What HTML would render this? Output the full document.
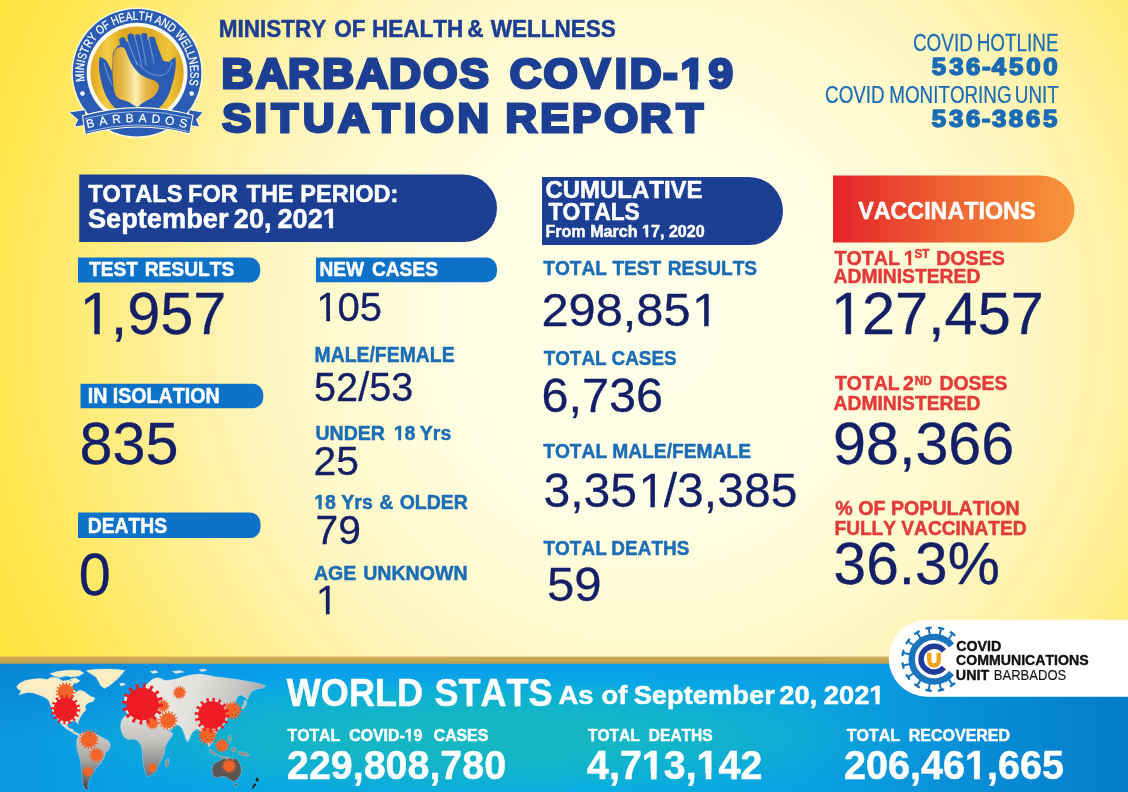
<!DOCTYPE html>
<html lang="en">
<head>
<meta charset="utf-8">
<title>Barbados COVID-19 Situation Report</title>
<style>
html,body{margin:0;padding:0;}
body{width:1128px;height:792px;overflow:hidden;background:#fff3a8;font-family:"Liberation Sans",Arial,sans-serif;}
svg{display:block;position:absolute;left:0;top:0;}
text{font-family:"Liberation Sans",Arial,sans-serif;white-space:pre;font-kerning:none;}
</style>
</head>
<body>
<svg width="1128" height="792" viewBox="0 0 1128 792">
<defs>
  <radialGradient id="bg" gradientUnits="userSpaceOnUse" cx="650" cy="325" r="720">
    <stop offset="0" stop-color="#fffee8"/>
    <stop offset="0.25" stop-color="#fffee6"/>
    <stop offset="0.44" stop-color="#fffacf"/>
    <stop offset="0.54" stop-color="#fff6c2"/>
    <stop offset="0.69" stop-color="#ffef99"/>
    <stop offset="0.735" stop-color="#ffee8a"/>
    <stop offset="0.92" stop-color="#ffe64e"/>
    <stop offset="1" stop-color="#ffe442"/>
  </radialGradient>
  <linearGradient id="band" gradientUnits="userSpaceOnUse" x1="0" y1="0" x2="1128" y2="0">
    <stop offset="0" stop-color="#0a96e1"/>
    <stop offset="0.12" stop-color="#0aa0e6"/>
    <stop offset="0.27" stop-color="#08a6e8"/>
    <stop offset="0.53" stop-color="#06aae8"/>
    <stop offset="0.71" stop-color="#0aa3e2"/>
    <stop offset="0.84" stop-color="#0891d9"/>
    <stop offset="1" stop-color="#047cc9"/>
  </linearGradient>
  <radialGradient id="teal" gradientUnits="userSpaceOnUse" cx="480" cy="737" r="440" gradientTransform="translate(480 737) scale(1 0.155) translate(-480 -737)">
    <stop offset="0" stop-color="#17b9bd" stop-opacity="0.9"/>
    <stop offset="0.35" stop-color="#17b9bd" stop-opacity="0.8"/>
    <stop offset="0.62" stop-color="#17b9bd" stop-opacity="0.5"/>
    <stop offset="0.85" stop-color="#17b9bd" stop-opacity="0.15"/>
    <stop offset="1" stop-color="#17b9bd" stop-opacity="0"/>
  </radialGradient>
  <radialGradient id="bandtl" gradientUnits="userSpaceOnUse" cx="0" cy="664" r="280" gradientTransform="translate(0 664) scale(1 0.27) translate(0 -664)">
    <stop offset="0" stop-color="#0a80d0" stop-opacity="0.75"/>
    <stop offset="0.5" stop-color="#0a80d0" stop-opacity="0.4"/>
    <stop offset="1" stop-color="#0a80d0" stop-opacity="0"/>
  </radialGradient>
  <linearGradient id="bandtop" gradientUnits="userSpaceOnUse" x1="0" y1="663" x2="0" y2="690">
    <stop offset="0" stop-color="#0a98ee" stop-opacity="0.7"/>
    <stop offset="1" stop-color="#0a98ee" stop-opacity="0"/>
  </linearGradient>
  <linearGradient id="goldl" gradientUnits="userSpaceOnUse" x1="0" y1="656.5" x2="0" y2="664">
    <stop offset="0" stop-color="#cfa95c"/>
    <stop offset="0.5" stop-color="#c8a84f"/>
    <stop offset="1" stop-color="#b59f5c"/>
  </linearGradient>
  <linearGradient id="vac" x1="0" y1="0" x2="1" y2="0">
    <stop offset="0" stop-color="#e5232a"/>
    <stop offset="0.5" stop-color="#ee6631"/>
    <stop offset="1" stop-color="#f8953a"/>
  </linearGradient>
</defs>
<rect x="0" y="0" width="1128" height="792" fill="url(#bg)"/>

<!-- bottom band -->
<rect x="0" y="663" width="1128" height="129" fill="url(#band)"/>
<rect x="0" y="663" width="1128" height="129" fill="url(#teal)"/>
<rect x="0" y="663" width="1128" height="27" fill="url(#bandtop)"/>
<rect x="0" y="663" width="290" height="80" fill="url(#bandtl)"/>
<rect x="0" y="656.6" width="1128" height="7.2" fill="url(#goldl)"/>

<!-- panels -->
<path d="M79.25 174.5H463.25a33.75 33.75 0 0 1 0 67.5H79.25Z" fill="#1c3f94"/>
<path d="M542 177H749a34 34 0 0 1 0 68H542Z" fill="#1c3f94"/>
<path d="M833 175.5H1041a33.5 33.5 0 0 1 0 67H833Z" fill="url(#vac)"/>
<!-- pills -->
<path d="M78 257.6H249.7a10.5 10.5 0 0 1 10.5 10.5V272.1a10.5 10.5 0 0 1 -10.5 10.5H78Z" fill="#0e72c8"/>
<path d="M316 257.6H486.5a10.5 10.5 0 0 1 10.5 10.5V271.7a10.5 10.5 0 0 1 -10.5 10.5H316Z" fill="#0e72c8"/>
<path d="M80.5 383.8H252.8a10.5 10.5 0 0 1 10.5 10.5V397.7a10.5 10.5 0 0 1 -10.5 10.5H80.5Z" fill="#0e72c8"/>
<path d="M78 512.6H250a10.5 10.5 0 0 1 10.5 10.5V527.6a10.5 10.5 0 0 1 -10.5 10.5H78Z" fill="#0e72c8"/>

<g id="logo" transform="translate(137.1 73.1)">
  <defs>
    <linearGradient id="lgGold" x1="0" y1="0" x2="1" y2="0">
      <stop offset="0" stop-color="#dfa61c"/>
      <stop offset="0.18" stop-color="#f4cd48"/>
      <stop offset="0.36" stop-color="#dea71f"/>
      <stop offset="0.65" stop-color="#e3ae25"/>
      <stop offset="0.85" stop-color="#f0c43c"/>
      <stop offset="1" stop-color="#dba21a"/>
    </linearGradient>
    <linearGradient id="lgIsle" x1="0" y1="0" x2="1" y2="0">
      <stop offset="0" stop-color="#d79f28"/>
      <stop offset="0.28" stop-color="#eac356"/>
      <stop offset="0.5" stop-color="#fdf0b4"/>
      <stop offset="0.72" stop-color="#e6b746"/>
      <stop offset="1" stop-color="#d9a02a"/>
    </linearGradient>
    <path id="lgArc" d="M-52.2 10.3A53.2 53.2 0 1 1 52.2 10.3"/>
    <path id="lgRib" d="M-56 57A201 201 0 0 1 56 57"/>
  </defs>
  <ellipse rx="65.8" ry="65.2" cy="-0.4" fill="#fffbe4" opacity="0.9"/>
  <ellipse rx="64.3" ry="63.7" cy="-0.4" fill="#2a5cb4"/>
  <circle r="50.4" fill="#fffdf4"/>
  <circle r="46.6" fill="url(#lgGold)"/>
  <!-- cupped hands (bowl) -->
  <path d="M-37.3-16C-39.3-8-37.6 4-33.4 17C-30.4 26-25.5 32-19.5 37.2H19.5C25.5 32 30.4 26 33.4 17C37.6 4 39.8-8 38.2-16C36-15.2 33.5-12.6 31.6-11L26-12.4L18-33L-12-31L-19.5-27L-24.2-20L-25-1.5C-27-5.5-29-9.5-30.7-12.4C-32.8-14.4-35-15.4-37.3-16Z" fill="#2a5cb4"/>
  <!-- fingers -->
  <g stroke="#2a5cb4" stroke-linecap="round" fill="none">
    <path d="M-8-14L-14.6-32.4" stroke-width="6.6"/>
    <path d="M-2-12L-6.2-36.2" stroke-width="6.8"/>
    <path d="M3-12L0.6-35.6" stroke-width="6.4"/>
    <path d="M8-12L7-36.6" stroke-width="6.8"/>
    <path d="M15-10L15-33" stroke-width="7"/>
  </g>
  <g stroke="#a9c2ea" stroke-width="0.7" fill="none" opacity="0.85" stroke-linecap="round">
    <path d="M-10.5-35L0-8"/><path d="M-2.6-38L5-6"/><path d="M3.8-38L9-8"/><path d="M11-37L17-10"/>
    <path d="M-1-12C6-2 16 4 26 2C30 1 33-4 35-11"/>
    <path d="M-33-10C-31-2-28 6-25 12"/>
  </g>
  <!-- island -->
  <path d="M-19-25.4C-16-27-13-25.6-11.6-23C-10-19-8.6-15-7-12C-5-8-3-5-0.6-2.4C2 0.4 5 2.6 8.4 4.2C12 6 16.5 6.6 19.4 8.8C22 10.8 22.6 13 21.6 15.4C20.6 18.4 19 21 17 23.2C14 26 10 27.4 7 28.8C4.4 30.2 2.6 32.6 0.4 33.8C-2.4 33.4-5 30.4-8.4 28.8C-11.6 27.4-15.6 27-18.4 25.4C-21 23.6-22.4 20.6-23 17.6C-24.2 10-24.8 2-24.6-4.8C-24.6-9.8-24.2-14.6-23.4-19.2C-22.6-22-21.2-24.2-19-25.4Z" fill="url(#lgIsle)"/>
  <!-- dots -->
  <circle cx="-54.6" cy="20.4" r="2.3" fill="#fff"/>
  <circle cx="54.6" cy="20.4" r="2.3" fill="#fff"/>
  <text font-size="12.2" font-weight="400" fill="#fff" stroke="#fff" stroke-width="0.25" textLength="187" lengthAdjust="spacingAndGlyphs"><textPath href="#lgArc" startOffset="2" textLength="187" lengthAdjust="spacingAndGlyphs">MINISTRY OF HEALTH AND WELLNESS</textPath></text>
  <!-- ribbon -->
  <path d="M-68.2 39L-52 36.5L-50 52L-62.8 54L-59.4 46.5Z" fill="#2a5cb4" stroke="#fffbe4" stroke-width="1"/>
  <path d="M66.2 39L52 36.5L50 52L62.8 54L59.4 46.5Z" fill="#2a5cb4" stroke="#fffbe4" stroke-width="1"/>
  <path d="M-54.6 42.7A201 201 0 0 1 56 42.1L52.6 60.8A196 196 0 0 0 -51.8 61.5Z" fill="#2a5cb4" stroke="#fffbe4" stroke-width="1.1"/>
  <path d="M-52.2 45.6A201 201 0 0 1 53.4 45.2" fill="none" stroke="#cfe0f7" stroke-width="0.7"/>
  <path d="M-50 58.6A198 198 0 0 1 50.6 58.2" fill="none" stroke="#cfe0f7" stroke-width="0.7"/>
  <text font-size="12" font-weight="400" fill="#fff" stroke="#fff" stroke-width="0.2" letter-spacing="4.7"><textPath href="#lgRib" startOffset="51.8%" text-anchor="middle">BARBADOS</textPath></text>
</g>

<g id="worldmap">
  <defs>
    <linearGradient id="mapNA" gradientUnits="userSpaceOnUse" x1="0" y1="668" x2="0" y2="736">
      <stop offset="0" stop-color="#fdeec2"/>
      <stop offset="0.55" stop-color="#f8ebc8"/>
      <stop offset="1" stop-color="#d6d3cc"/>
    </linearGradient>
    <linearGradient id="mapSA" gradientUnits="userSpaceOnUse" x1="0" y1="732" x2="0" y2="791">
      <stop offset="0" stop-color="#d2cfc8"/>
      <stop offset="0.45" stop-color="#a9a8a6"/>
      <stop offset="0.8" stop-color="#6b6b6b"/>
      <stop offset="1" stop-color="#2e2e2e"/>
    </linearGradient>
    <linearGradient id="mapAF" gradientUnits="userSpaceOnUse" x1="0" y1="714" x2="0" y2="777">
      <stop offset="0" stop-color="#e2dfda"/>
      <stop offset="0.45" stop-color="#c2c0bd"/>
      <stop offset="1" stop-color="#6e6e6e"/>
    </linearGradient>
    <linearGradient id="mapEA" gradientUnits="userSpaceOnUse" x1="130" y1="680" x2="270" y2="720">
      <stop offset="0" stop-color="#f1eee6"/>
      <stop offset="0.45" stop-color="#e3e1dd"/>
      <stop offset="0.75" stop-color="#c4c3c1"/>
      <stop offset="1" stop-color="#9a9a9a"/>
    </linearGradient>
    <g id="vr">
      <circle r="1.1" fill="none" stroke="#ee1c24" stroke-width="0.32" stroke-dasharray="0.17 0.2619"/>
      <circle r="1" fill="#ee1c24"/>
    </g>
    <g id="vo">
      <circle r="1.1" fill="none" stroke="#f2642a" stroke-width="0.32" stroke-dasharray="0.17 0.2619"/>
      <circle r="1" fill="#f2642a"/>
    </g>
  </defs>
  <g stroke="#e9f3f5" stroke-width="0.5" stroke-opacity="0.55" stroke-linejoin="round">
  <g fill="url(#mapNA)">
    <!-- North America -->
    <path d="M16.5 686.5L20 683L25 680.5L33 679L41 678.5L47 679.5L52 677L58 678L63 681L69 680L74 683L72 688L76 692L80 690L85 692L90 696L95 698L93 701.5L88 703L85 706L86 710L83 713L80.5 717L78.5 721L78 724.5L76.5 722L73 721L69 722L67 725L69 728.5L72.5 729L74 731.5L77 733L80 734.5L78 735.5L74.5 734L71 731.5L66.5 729L62 725L58.5 720L55 716L52.5 711L50.5 705L48.5 700L44 697L39 695L33.5 693L28 692.5L23 693.5L19 695L21 691L18 689Z"/>
    <!-- Arctic islands -->
    <path d="M50 673.5L57 671.5L64 670.5L72 670L80 670.5L84 673L79 676L72 677L66 676L60 677.5L54 676Z"/>
    <path d="M70 679L76 678L80 681L76 683.5L72 682Z"/>
    <!-- Greenland -->
    <path d="M86 670.5L95 669.3L106 669L117 669.3L125 670.5L122 674L118.5 678L114 682L109 686L104.5 688.5L101 686L98.5 681.5L96 677L91 674Z"/>
    <!-- Iceland -->
    <path d="M119.5 683.5L124 683L125 685L121 686Z"/>
  </g><g fill="url(#mapSA)">
    <!-- South America -->
    <path d="M79.5 734.5L84 732.5L89 732L94 733L98.5 735.5L103 738L108.5 741L110.5 745L109 749.5L105.5 753L104 758L101 763L97 767L94 772L91 777L88.5 782L87.5 786.5L88.5 790L85.5 789L83 785L82 779L81.5 772L81 764L79.5 757L77.5 751L76.5 745L77 739Z"/>
  </g><g fill="url(#mapAF)">
    <!-- Africa -->
    <path d="M121 722.5L122.5 718.5L126 715.5L132 714.5L139 714L146 714.8L151 716.5L156 716L161 717L164 721L166.5 726L169 731L173 733.5L171 737.5L167.5 742L165 747L164.5 753L162 759L158.5 765L155 771L151.5 775.5L147.5 776.5L145 772L143.5 765L142.5 758L142.5 751L141 745L138 740.5L133 739L128 739.5L124 737L121.5 732L120.5 727Z"/>
    <path d="M166 760L168.5 758.5L169 763L167 767.5L165 766Z"/>
  </g><g fill="url(#mapEA)">
    <!-- Eurasia -->
    <path d="M126 712.5L126.5 708L129.5 706L128.5 702.5L132 700L135.5 698.5L138 695.5L141 694L142 690L145 686L149 682L153 679L157 677.5L161 678.5L165 680.5L170 680L176 679L182 677L188 675.5L194 674.5L200 674L207 675L214 676.5L222 677.5L230 678.5L238 679.5L246 681L254 682.5L261 684L265.5 686L262 688.5L257 689L252 691L249.5 695L247.5 699.5L244.5 697L241 695L237.5 696.5L236 700.5L234 704L232 708L231 712L229.5 716L227 720L224.5 724L221 727L218 731L215 735L213 739.5L211 744L209 747L207 743L205.5 738L203 734L200 731L197 729L193.5 731L191 735L189 739.5L187.5 742L185.5 738L184 733L182 728.5L179.5 725.5L176 725L173.5 727L171 730.5L168 729L166 725L163.5 721L160.5 718L156 716L152 713.5L148.5 712.5L146 714.5L143 712L139.5 710.5L136 712L133 714L129.5 715.5Z"/>
    <!-- British isles -->
    <path d="M124.5 697L127.5 695.5L128.5 699L126.5 702L124.5 700.5Z"/>
    <!-- Scandinavia islands -->
    <path d="M150 671.5L156 670.5L158 672.5L153 673.5Z"/>
    <path d="M172 671.5L180 670.5L184 672L176 673.5Z"/>
    <path d="M199 669.5L205 669L207 670.5L201 671.5Z"/>
    <!-- Japan -->
    <path d="M244.5 700L247 701.5L246 705.5L243.5 709L241.5 708L243.5 704Z"/>
  </g><g fill="#8f8b88">
    <!-- Indonesia / Philippines -->
    <path d="M209 749L213 751L217 754L215.5 756L211 753Z"/>
    <path d="M218 755.5L225 756.5L230 757.5L229.5 759L222 758Z"/>
    <path d="M221 746L226 744.5L227.5 748.5L224 751L221 749.5Z"/>
    <path d="M231 748L235 747.5L236 751L232.5 752Z"/>
    <path d="M238 751.5L246 752.5L250 755.5L245 756L239.5 754.5Z"/>
    <path d="M228 736L230.5 735L231.5 740L229.5 742.5Z"/>
  </g><g fill="#5b5553">
    <!-- Australia -->
    <path d="M212.5 766L215.5 762.5L220 760.5L224 758L227 759.5L230 757.5L233 759.5L236 758L239 762L241 766.5L241.5 771.5L240 776L237 780L233 781.5L229.5 779.5L226 777L221.5 776.5L217 778L213.5 776.5L212 771.5Z"/>
    <path d="M234.5 783.5L237.5 783.5L237 786L235 786Z"/>
  </g><g fill="#262626" stroke="none">
    <!-- New Zealand -->
    <path d="M256.5 777L259 779.5L257.5 782L255.5 780.5Z"/>
    <path d="M255 783L256.5 784.5L253.5 788L251.5 789L252.5 786Z"/>
  </g>
  </g>
  <!-- virus markers -->
  <use href="#vo" transform="translate(65.5 692) scale(7.82)"/>
  <use href="#vr" transform="translate(65.5 709.5) scale(11.73)"/>
  <use href="#vo" transform="translate(179.5 692.5) scale(5.29)"/>
  <use href="#vo" transform="translate(163 706) scale(5.06)"/>
  <use href="#vo" transform="translate(168 720.5) scale(7.59)"/>
  <use href="#vo" transform="translate(152.5 723) scale(5.29)"/>
  <use href="#vr" transform="translate(142.5 704) scale(16.33)"/>
  <use href="#vo" transform="translate(232.5 710.5) scale(7.36)"/>
  <use href="#vo" transform="translate(207.5 735.5) scale(7.36)"/>
  <use href="#vr" transform="translate(212 715) scale(13.80)"/>
  <use href="#vo" transform="translate(222 745.5) scale(5.52)"/>
  <use href="#vo" transform="translate(229 766) scale(5.75)"/>
  <use href="#vo" transform="translate(89 739.5) scale(7.82)"/>
  <use href="#vo" transform="translate(96.5 755) scale(5.98)"/>
  <use href="#vo" transform="translate(88 771.5) scale(4.14)"/>
  <use href="#vo" transform="translate(152.5 768) scale(3.91)"/>
</g>

<g id="ccu">
  <path d="M1128 619.7H927.2a38.5 38.5 0 0 0 0 77H1128Z" fill="#ffffff"/>
  <g transform="translate(934 659.2)">
    <g stroke="#1b75bc" stroke-width="2" stroke-linecap="round" fill="#1b75bc">
      <g transform="rotate(-216.0)"><path d="M0-24V-30.8" fill="none"/><path d="M-2.2-31.6H2.2" fill="none" stroke-width="2.4"/></g>
      <g transform="rotate(-193.1)"><path d="M0-24V-30.8" fill="none"/><path d="M-2.2-31.6H2.2" fill="none" stroke-width="2.4"/></g>
      <g transform="rotate(-170.2)"><path d="M0-24V-30.8" fill="none"/><path d="M-2.2-31.6H2.2" fill="none" stroke-width="2.4"/></g>
      <g transform="rotate(-147.3)"><path d="M0-24V-30.8" fill="none"/><path d="M-2.2-31.6H2.2" fill="none" stroke-width="2.4"/></g>
      <g transform="rotate(-124.4)"><path d="M0-24V-30.8" fill="none"/><path d="M-2.2-31.6H2.2" fill="none" stroke-width="2.4"/></g>
      <g transform="rotate(-101.5)"><path d="M0-24V-30.8" fill="none"/><path d="M-2.2-31.6H2.2" fill="none" stroke-width="2.4"/></g>
      <g transform="rotate(-78.5)"><path d="M0-24V-30.8" fill="none"/><path d="M-2.2-31.6H2.2" fill="none" stroke-width="2.4"/></g>
      <g transform="rotate(-55.6)"><path d="M0-24V-30.8" fill="none"/><path d="M-2.2-31.6H2.2" fill="none" stroke-width="2.4"/></g>
      <g transform="rotate(-32.7)"><path d="M0-24V-30.8" fill="none"/><path d="M-2.2-31.6H2.2" fill="none" stroke-width="2.4"/></g>
      <g transform="rotate(-9.8)"><path d="M0-24V-30.8" fill="none"/><path d="M-2.2-31.6H2.2" fill="none" stroke-width="2.4"/></g>
      <g transform="rotate(13.1)"><path d="M0-24V-30.8" fill="none"/><path d="M-2.2-31.6H2.2" fill="none" stroke-width="2.4"/></g>
      <g transform="rotate(36.0)"><path d="M0-24V-30.8" fill="none"/><path d="M-2.2-31.6H2.2" fill="none" stroke-width="2.4"/></g>
    </g>
    <path d="M17.57 -13.73A22.3 22.3 0 1 0 17.57 13.73" fill="none" stroke="#1b75bc" stroke-width="6.4"/>
    <path d="M9.88 -8.29A12.9 12.9 0 1 0 9.88 8.29" fill="none" stroke="#1e3c96" stroke-width="5.6"/>
    <path d="M-4.7-6.4V1.6A4.7 4.7 0 0 0 4.7 1.6V-6.4" fill="none" stroke="#f3a21f" stroke-width="4.4"/>
  </g>
</g>

<text transform="scale(0.9637 1)" y="37.5" font-size="23.38" font-weight="700" fill="#1c3f94" stroke="#1c3f94" stroke-width="0.5" stroke-linejoin="round"><tspan x="226.94">MINISTRY</tspan> <tspan x="346.91">OF</tspan> <tspan x="386.11">HEALTH</tspan> <tspan x="484.96">&amp;</tspan> <tspan x="509.32">WELLNESS</tspan></text>
<text transform="scale(1.06 1)" x="209.04 241.21 271.81 303.97 336.14 367.16 399.3 433.52" y="88.35" font-size="41.58" font-weight="700" fill="#1c3f94" stroke="#1c3f94" stroke-width="2.9" stroke-linejoin="miter" stroke-miterlimit="2.5">BARBADOS</text>
<text transform="scale(1.06 1)" x="480.84 512.8 547.99 579.94 594 625.42 642.01 668.52" y="88.35" font-size="41.58" font-weight="700" fill="#1c3f94" stroke="#1c3f94" stroke-width="2.9" stroke-linejoin="miter" stroke-miterlimit="2.5">COVID-19</text>
<text transform="scale(1.06 1)" x="209.77 240.26 256.14 285.75 318.87 351.78 381.44 396.2 431.58" y="132.35" font-size="41.15" font-weight="700" fill="#1c3f94" stroke="#1c3f94" stroke-width="2.9" stroke-linejoin="miter" stroke-miterlimit="2.5">SITUATION</text>
<text transform="scale(1.06 1)" x="476.99 509.67 539.54 570.16 603.8 638.12" y="132.35" font-size="41.15" font-weight="700" fill="#1c3f94" stroke="#1c3f94" stroke-width="2.9" stroke-linejoin="miter" stroke-miterlimit="2.5">REPORT</text>
<text transform="scale(0.7911 1)" y="51.12" font-size="23.91" font-weight="400" fill="#1b6cb4" stroke="#1b6cb4" stroke-width="0.25" stroke-linejoin="round"><tspan x="1153.99">COVID</tspan> <tspan x="1234.58">HOTLINE</tspan></text>
<text transform="scale(1.12 1)" x="831.9 847.45 862.61 876.68 885.41 900.85 916.23 931.56" y="74.75" font-size="23.02" font-weight="700" fill="#1b6cb4" stroke="#1b6cb4" stroke-width="1.5" stroke-linejoin="round">536-4500</text>
<text transform="scale(0.8123 1)" y="103.12" font-size="23.19" font-weight="400" fill="#1b6cb4" stroke="#1b6cb4" stroke-width="0.25" stroke-linejoin="round"><tspan x="1015.7">COVID</tspan> <tspan x="1094.74">MONITORING</tspan> <tspan x="1249.3">UNIT</tspan></text>
<text transform="scale(1.12 1)" x="831.9 847.43 862.55 876.61 885.66 900.73 916.08 931.33" y="126.75" font-size="23.02" font-weight="700" fill="#1b6cb4" stroke="#1b6cb4" stroke-width="1.5" stroke-linejoin="round">536-3865</text>
<text transform="scale(0.991 1)" y="201.75" font-size="23.74" font-weight="700" fill="#ffffff" stroke="#ffffff" stroke-width="0.5" stroke-linejoin="round"><tspan x="89.07">TOTALS</tspan> <tspan x="189.81">FOR</tspan> <tspan x="248.77">THE</tspan> <tspan x="303.03">PERIOD:</tspan></text>
<text transform="scale(0.9696 1)" y="227.85" font-size="28.06" font-weight="700" fill="#ffffff" stroke="#ffffff" stroke-width="0.5" stroke-linejoin="round"><tspan x="90.67">September</tspan> <tspan x="241.1">20,</tspan> <tspan x="286.17">2021</tspan></text>
<text transform="scale(1.0094 1)" y="198" font-size="23.74" font-weight="700" fill="#ffffff" stroke="#ffffff" stroke-width="0.5" stroke-linejoin="round"><tspan x="540.44">CUMULATIVE</tspan></text>
<text transform="scale(0.9766 1)" y="220.25" font-size="23.38" font-weight="700" fill="#ffffff" stroke="#ffffff" stroke-width="0.5" stroke-linejoin="round"><tspan x="561.68">TOTALS</tspan></text>
<text transform="scale(0.933 1)" y="237.25" font-size="17.27" font-weight="700" fill="#ffffff" stroke="#ffffff" stroke-width="0.5" stroke-linejoin="round"><tspan x="584.62">From March 17, 2020</tspan></text>
<text transform="scale(0.9973 1)" y="219" font-size="23.38" font-weight="700" fill="#ffffff" stroke="#ffffff" stroke-width="0.5" stroke-linejoin="round"><tspan x="860.47">VACCINATIONS</tspan></text>
<text transform="scale(0.9209 1)" y="276" font-size="20.86" font-weight="700" fill="#ffffff" stroke="#ffffff" stroke-width="0.5" stroke-linejoin="round"><tspan x="96.55">TEST</tspan> <tspan x="157.08">RESULTS</tspan></text>
<text transform="scale(0.9997 1)" y="334.26" font-size="59.44" font-weight="400" fill="#131f66" stroke="#131f66" stroke-width="0.3" stroke-linejoin="round"><tspan x="77.68"><tspan dx="1.78">1</tspan><tspan dx="-1.78">,</tspan>957</tspan></text>
<text transform="scale(0.9109 1)" y="402.75" font-size="21.58" font-weight="700" fill="#ffffff" stroke="#ffffff" stroke-width="0.5" stroke-linejoin="round"><tspan x="96.27">IN</tspan> <tspan x="123.78">ISOLATION</tspan></text>
<text transform="scale(1.0055 1)" y="463.76" font-size="59.02" font-weight="400" fill="#131f66" stroke="#131f66" stroke-width="0.3" stroke-linejoin="round"><tspan x="79.09">835</tspan></text>
<text transform="scale(0.8956 1)" y="532.75" font-size="21.58" font-weight="700" fill="#ffffff" stroke="#ffffff" stroke-width="0.5" stroke-linejoin="round"><tspan x="97.97">DEATHS</tspan></text>
<text transform="scale(0.9696 1)" y="594.76" font-size="59.44" font-weight="400" fill="#131f66" stroke="#131f66" stroke-width="0.3" stroke-linejoin="round"><tspan x="81.1">0</tspan></text>
<text transform="scale(0.9182 1)" y="276" font-size="20.86" font-weight="700" fill="#ffffff" stroke="#ffffff" stroke-width="0.5" stroke-linejoin="round"><tspan x="347.97">NEW</tspan> <tspan x="405.09">CASES</tspan></text>
<text transform="scale(0.9921 1)" y="321.45" font-size="40.42" font-weight="400" fill="#131f66" stroke="#131f66" stroke-width="0.3" stroke-linejoin="round"><tspan x="317.6"><tspan dx="1.22">1</tspan><tspan dx="-1.22">0</tspan>5</tspan></text>
<text transform="scale(0.8997 1)" y="362.25" font-size="21.58" font-weight="700" fill="#1b6db6" stroke="#1b6db6" stroke-width="0.5" stroke-linejoin="round"><tspan x="349.55">MALE/FEMALE</tspan></text>
<text transform="scale(0.989 1)" y="401.45" font-size="40.07" font-weight="400" fill="#131f66" stroke="#131f66" stroke-width="0.3" stroke-linejoin="round"><tspan x="317.57">52/53</tspan></text>
<text transform="scale(0.9377 1)" y="439.75" font-size="20.86" font-weight="700" fill="#1b6db6" stroke="#1b6db6" stroke-width="0.5" stroke-linejoin="round"><tspan x="336.4">UNDER</tspan> <tspan x="419.88">18</tspan> <tspan x="447.72">Yrs</tspan></text>
<text transform="scale(1.0191 1)" y="474.95" font-size="40.07" font-weight="400" fill="#131f66" stroke="#131f66" stroke-width="0.3" stroke-linejoin="round"><tspan x="307.73">25</tspan></text>
<text transform="scale(0.935 1)" y="509" font-size="20.86" font-weight="700" fill="#1b6db6" stroke="#1b6db6" stroke-width="0.5" stroke-linejoin="round"><tspan x="336.07">18</tspan> <tspan x="365.07">Yrs</tspan> <tspan x="405.69">&amp;</tspan> <tspan x="427.41">OLDER</tspan></text>
<text transform="scale(1.018 1)" y="544.45" font-size="40.07" font-weight="400" fill="#131f66" stroke="#131f66" stroke-width="0.3" stroke-linejoin="round"><tspan x="310.03">79</tspan></text>
<text transform="scale(0.9386 1)" y="579.75" font-size="20.86" font-weight="700" fill="#1b6db6" stroke="#1b6db6" stroke-width="0.5" stroke-linejoin="round"><tspan x="334.49">AGE</tspan> <tspan x="387">UNKNOWN</tspan></text>
<text transform="scale(0.963 1)" y="614.1" font-size="41.23" font-weight="400" fill="#131f66" stroke="#131f66" stroke-width="0.3" stroke-linejoin="round"><tspan x="326.87"><tspan dx="1.28">1</tspan></tspan></text>
<text transform="scale(0.9182 1)" y="274.75" font-size="20.86" font-weight="700" fill="#1b6db6" stroke="#1b6db6" stroke-width="0.5" stroke-linejoin="round"><tspan x="591.65">TOTAL</tspan> <tspan x="666.94">TEST</tspan> <tspan x="727.3">RESULTS</tspan></text>
<text transform="scale(1.0343 1)" y="326.38" font-size="47.13" font-weight="400" fill="#131f66" stroke="#131f66" stroke-width="0.3" stroke-linejoin="round"><tspan x="523.5">298,85<tspan dx="1.37">1</tspan></tspan></text>
<text transform="scale(0.9043 1)" y="364.75" font-size="20.86" font-weight="700" fill="#1b6db6" stroke="#1b6db6" stroke-width="0.5" stroke-linejoin="round"><tspan x="601.23">TOTAL</tspan> <tspan x="676.3">CASES</tspan></text>
<text transform="scale(1.009 1)" y="411.87" font-size="48.17" font-weight="400" fill="#131f66" stroke="#131f66" stroke-width="0.3" stroke-linejoin="round"><tspan x="536.62">6,736</tspan></text>
<text transform="scale(0.9215 1)" y="457.75" font-size="20.86" font-weight="700" fill="#1b6db6" stroke="#1b6db6" stroke-width="0.5" stroke-linejoin="round"><tspan x="589.42">TOTAL</tspan> <tspan x="664.37">MALE/FEMALE</tspan></text>
<text transform="scale(1.0047 1)" y="506.87" font-size="47.83" font-weight="400" fill="#131f66" stroke="#131f66" stroke-width="0.3" stroke-linejoin="round"><tspan x="540.95">3,35<tspan dx="1.43">1</tspan><tspan dx="-1.43">/</tspan>3,385</tspan></text>
<text transform="scale(0.9103 1)" y="554.75" font-size="20.86" font-weight="700" fill="#1b6db6" stroke="#1b6db6" stroke-width="0.5" stroke-linejoin="round"><tspan x="597.08">TOTAL</tspan> <tspan x="671.58">DEATHS</tspan></text>
<text transform="scale(1.006 1)" y="600.61" font-size="48.87" font-weight="400" fill="#131f66" stroke="#131f66" stroke-width="0.3" stroke-linejoin="round"><tspan x="543.7">59</tspan></text>
<text transform="scale(0.9633 1)" y="264.8" font-size="20.37" font-weight="700" fill="#e23b3a" stroke="#e23b3a" stroke-width="0.5" stroke-linejoin="round"><tspan x="866.33">TOTAL</tspan> <tspan x="938.3">1</tspan><tspan x="949.33" y="258.44" font-size="11.99">ST</tspan> <tspan x="971.87" y="264.8">DOSES</tspan></text>
<text transform="scale(0.9578 1)" y="283.5" font-size="20.14" font-weight="700" fill="#e23b3a" stroke="#e23b3a" stroke-width="0.5" stroke-linejoin="round"><tspan x="870.33">ADMINISTERED</tspan></text>
<text transform="scale(1.0125 1)" y="334.26" font-size="58.73" font-weight="400" fill="#131f66" stroke="#131f66" stroke-width="0.3" stroke-linejoin="round"><tspan x="818.69"><tspan dx="1.74">1</tspan><tspan dx="-1.74">2</tspan>7,457</tspan></text>
<text transform="scale(0.9651 1)" y="390.5" font-size="20.14" font-weight="700" fill="#e23b3a" stroke="#e23b3a" stroke-width="0.5" stroke-linejoin="round"><tspan x="865.13">TOTAL</tspan> <tspan x="935.78">2</tspan><tspan x="947.84" y="384.51" font-size="12.26">ND</tspan> <tspan x="973.39" y="390.5">DOSES</tspan></text>
<text transform="scale(0.9578 1)" y="409.75" font-size="20.14" font-weight="700" fill="#e23b3a" stroke="#e23b3a" stroke-width="0.5" stroke-linejoin="round"><tspan x="870.33">ADMINISTERED</tspan></text>
<text transform="scale(1.0044 1)" y="463.76" font-size="59.02" font-weight="400" fill="#131f66" stroke="#131f66" stroke-width="0.3" stroke-linejoin="round"><tspan x="829.37">98,366</tspan></text>
<text transform="scale(0.9753 1)" y="515.5" font-size="20.14" font-weight="700" fill="#e23b3a" stroke="#e23b3a" stroke-width="0.5" stroke-linejoin="round"><tspan x="856.51">% OF POPULATION</tspan></text>
<text transform="scale(0.9489 1)" y="534.75" font-size="20.14" font-weight="700" fill="#e23b3a" stroke="#e23b3a" stroke-width="0.5" stroke-linejoin="round"><tspan x="879.43">FULLY VACCINATED</tspan></text>
<text transform="scale(0.9865 1)" y="584.26" font-size="59.44" font-weight="400" fill="#131f66" stroke="#131f66" stroke-width="0.3" stroke-linejoin="round"><tspan x="845">36.3%</tspan></text>
<text transform="scale(0.928 1)" y="706" font-size="38.85" font-weight="700" fill="#ffffff" stroke="#ffffff" stroke-width="0.5" stroke-linejoin="round"><tspan x="309.11">WORLD</tspan> <tspan x="468.24">STATS</tspan></text>
<text transform="scale(1.0403 1)" y="704.25" font-size="26.26" font-weight="700" fill="#ffffff" stroke="#ffffff" stroke-width="0.5" stroke-linejoin="round"><tspan x="536.89">As</tspan> <tspan x="578.32">of</tspan> <tspan x="609.11">September</tspan> <tspan x="749.05">20,</tspan> <tspan x="791.86">2021</tspan></text>
<text transform="scale(0.9165 1)" y="741" font-size="17.27" font-weight="700" fill="#ffffff" stroke="#ffffff" stroke-width="0.5" stroke-linejoin="round"><tspan x="313.71">TOTAL</tspan> <tspan x="381.18">COVID-19</tspan> <tspan x="473.24">CASES</tspan></text>
<text transform="scale(0.9902 1)" y="778.6" font-size="39.79" font-weight="700" fill="#ffffff" stroke="#ffffff" stroke-width="0.5" stroke-linejoin="round"><tspan x="289.9">229,808,780</tspan></text>
<text transform="scale(0.8997 1)" y="741" font-size="17.27" font-weight="700" fill="#ffffff" stroke="#ffffff" stroke-width="0.5" stroke-linejoin="round"><tspan x="653.51">TOTAL</tspan> <tspan x="721.15">DEATHS</tspan></text>
<text transform="scale(0.9901 1)" y="778.6" font-size="39.79" font-weight="700" fill="#ffffff" stroke="#ffffff" stroke-width="0.5" stroke-linejoin="round"><tspan x="593">4,713,142</tspan></text>
<text transform="scale(0.9263 1)" y="741.05" font-size="17.27" font-weight="700" fill="#ffffff" stroke="#ffffff" stroke-width="0.5" stroke-linejoin="round"><tspan x="914.06">TOTAL</tspan> <tspan x="981.15">RECOVERED</tspan></text>
<text transform="scale(0.9926 1)" y="778.65" font-size="39.86" font-weight="700" fill="#ffffff" stroke="#ffffff" stroke-width="0.5" stroke-linejoin="round"><tspan x="850.24">206,461,665</tspan></text>
<text transform="scale(0.9544 1)" y="650.71" font-size="14.93" font-weight="700" fill="#111111" stroke="#111111" stroke-width="0.4" stroke-linejoin="round"><tspan x="1001.87">COVID</tspan></text>
<text transform="scale(0.9463 1)" y="665.01" font-size="14.93" font-weight="700" fill="#111111" stroke="#111111" stroke-width="0.4" stroke-linejoin="round"><tspan x="1010.36">COMMUNICATIONS</tspan></text>
<text transform="scale(0.9563 1)" y="679.74" font-size="14.93" font-weight="700" fill="#111111" stroke="#111111" stroke-width="0.4" stroke-linejoin="round"><tspan x="999.55">UNIT</tspan></text>
<text transform="scale(0.8435 1)" y="679.89" font-size="15.47" font-weight="400" fill="#111111" stroke="#111111" stroke-width="0.1" stroke-linejoin="round"><tspan x="1178.16">BARBADOS</tspan></text>
<g id="trim"><rect x="680.86" y="81.66" width="9.09" height="9.44" fill="url(#bg)"/><rect x="697.74" y="81.66" width="8.53" height="9.44" fill="url(#bg)"/><rect x="323.34" y="223.74" width="5.74" height="5.66" fill="#1c3f94"/><rect x="333.1" y="223.74" width="5.39" height="5.66" fill="#1c3f94"/><rect x="641.89" y="234.24" width="3.85" height="4.56" fill="#1c3f94"/><rect x="648.25" y="234.24" width="3.64" height="4.56" fill="#1c3f94"/><rect x="82.81" y="328.67" width="11.48" height="7.04" fill="url(#bg)"/><rect x="99.72" y="328.67" width="11.01" height="7.04" fill="url(#bg)"/><rect x="318.21" y="317.28" width="8.09" height="5.62" fill="url(#bg)"/><rect x="330.02" y="317.28" width="7.78" height="5.62" fill="url(#bg)"/><rect x="393.69" y="436.37" width="4.43" height="4.93" fill="url(#bg)"/><rect x="401.11" y="436.37" width="4.19" height="4.93" fill="url(#bg)"/><rect x="314.22" y="505.62" width="4.42" height="4.93" fill="url(#bg)"/><rect x="321.62" y="505.62" width="4.18" height="4.93" fill="url(#bg)"/><rect x="317.89" y="609.87" width="8.02" height="5.68" fill="url(#bg)"/><rect x="329.6" y="609.87" width="7.71" height="5.68" fill="url(#bg)"/><rect x="694.55" y="321.71" width="9.61" height="6.12" fill="url(#bg)"/><rect x="708.64" y="321.71" width="9.22" height="6.12" fill="url(#bg)"/><rect x="640.94" y="502.15" width="9.48" height="6.17" fill="url(#bg)"/><rect x="654.85" y="502.15" width="9.11" height="6.17" fill="url(#bg)"/><rect x="834.04" y="328.72" width="11.48" height="6.99" fill="url(#bg)"/><rect x="850.96" y="328.72" width="11.02" height="6.99" fill="url(#bg)"/><rect x="869.79" y="700.32" width="5.75" height="5.48" fill="url(#band)"/><rect x="869.79" y="700.32" width="5.75" height="5.48" fill="url(#teal)"/><rect x="879.6" y="700.32" width="5.41" height="5.48" fill="url(#band)"/><rect x="879.6" y="700.32" width="5.41" height="5.48" fill="url(#teal)"/><rect x="404.48" y="737.99" width="3.8" height="4.56" fill="url(#band)"/><rect x="404.48" y="737.99" width="3.8" height="4.56" fill="url(#teal)"/><rect x="410.75" y="737.99" width="3.6" height="4.56" fill="url(#band)"/><rect x="410.75" y="737.99" width="3.6" height="4.56" fill="url(#teal)"/><rect x="643.16" y="773.29" width="7.81" height="6.86" fill="url(#band)"/><rect x="643.16" y="773.29" width="7.81" height="6.86" fill="url(#teal)"/><rect x="656.68" y="773.29" width="7.31" height="6.86" fill="url(#band)"/><rect x="656.68" y="773.29" width="7.31" height="6.86" fill="url(#teal)"/><rect x="697.92" y="773.29" width="7.81" height="6.86" fill="url(#band)"/><rect x="697.92" y="773.29" width="7.81" height="6.86" fill="url(#teal)"/><rect x="711.44" y="773.29" width="7.31" height="6.86" fill="url(#band)"/><rect x="711.44" y="773.29" width="7.31" height="6.86" fill="url(#teal)"/><rect x="966.22" y="773.33" width="7.84" height="6.87" fill="url(#band)"/><rect x="966.22" y="773.33" width="7.84" height="6.87" fill="url(#teal)"/><rect x="979.79" y="773.33" width="7.34" height="6.87" fill="url(#band)"/><rect x="979.79" y="773.33" width="7.34" height="6.87" fill="url(#teal)"/><rect x="903.89" y="261.48" width="4.44" height="4.88" fill="url(#bg)"/><rect x="911.32" y="261.48" width="4.19" height="4.88" fill="url(#bg)"/></g>
</svg>
</body>
</html>
